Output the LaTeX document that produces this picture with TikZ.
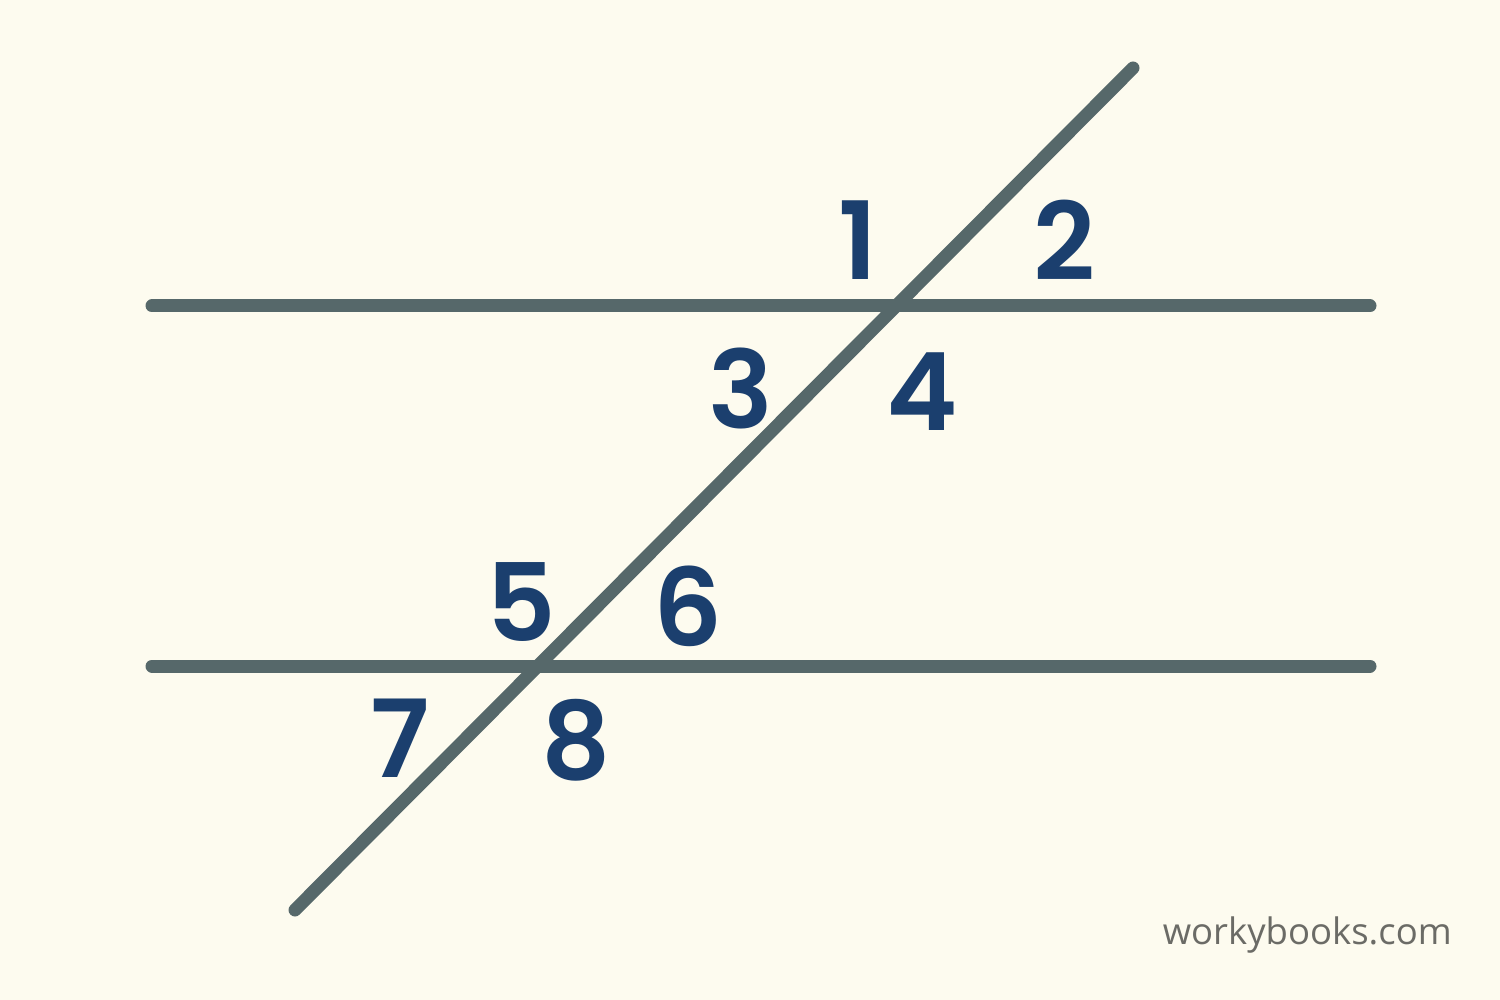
\documentclass[tikz,border=0pt]{standalone}
\usepackage{fontspec}
\setmainfont{Poppins}[BoldFont={Poppins SemiBold}]
\newfontfamily\markfont{Open Sans}
\definecolor{bgc}{HTML}{FDFBEF}
\definecolor{linec}{HTML}{56686A}
\definecolor{numc}{HTML}{1B3F6E}
\definecolor{markc}{HTML}{6B6B66}
\begin{document}
\begin{tikzpicture}[x=1pt,y=-1pt,
  ln/.style={draw=linec,line width=13pt,line cap=round},
  num/.style={text=numc,font=\fontsize{108}{108}\selectfont\bfseries,inner sep=0pt,anchor=center}]
\fill[bgc] (0,0) rectangle (1500,1000);
\useasboundingbox (0,0) rectangle (1500,1000);
\coordinate (h1a) at (152,306);
\coordinate (h1b) at (1370,306);
\coordinate (h2a) at (152,666);
\coordinate (h2b) at (1370,666);
\coordinate (ta) at (1133,68);
\coordinate (tb) at (295,910);
\draw[ln] (h1a) -- (h1b);
\draw[ln] (h2a) -- (h2b);
\draw[ln] (ta) -- (tb);
\node[num] (n1) at (858,240) {1};
\node[num] (n2) at (1064,240) {2};
\node[num] (n3) at (741,388) {3};
\node[num] (n4) at (922,392) {4};
\node[num] (n5) at (521,602) {5};
\node[num] (n6) at (688,606) {6};
\node[num] (n7) at (400,738) {7};
\node[num] (n8) at (576,740) {8};
\node[text=markc,font=\markfont\fontsize{36.5}{36.5}\selectfont,anchor=east,inner sep=0pt] (wm) at (1452,935) {workybooks.com};
\end{tikzpicture}
\end{document}
